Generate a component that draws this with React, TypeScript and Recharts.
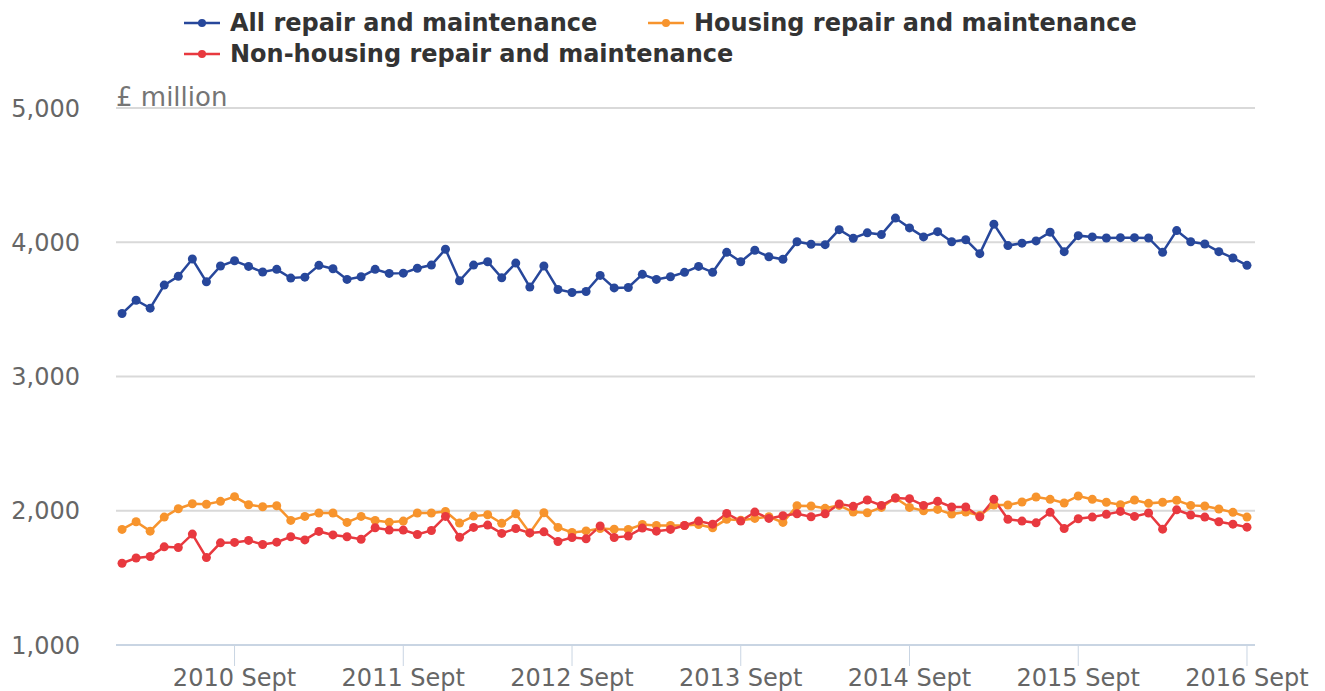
import React from 'react';
import { LineChart, Line, XAxis, YAxis, CartesianGrid } from 'recharts';

// Monthly, January 2010 to September 2016 (81 months), £ million
const allRepair = [
  3469, 3568, 3509, 3681, 3746, 3875, 3705, 3823, 3862, 3820,
  3778, 3798, 3733, 3740, 3828, 3803, 3723, 3743, 3798, 3768,
  3770, 3806, 3830, 3948, 3713, 3830, 3855, 3735, 3845, 3666,
  3823, 3648, 3626, 3633, 3753, 3660, 3663, 3761, 3723, 3743,
  3776, 3820, 3776, 3925, 3855, 3940, 3892, 3873, 4004, 3985,
  3982, 4094, 4030, 4070, 4057, 4180, 4107, 4040, 4079, 4004,
  4019, 3915, 4135, 3975, 3993, 4010, 4075, 3930, 4049, 4040,
  4032, 4034, 4034, 4032, 3925, 4087, 4004, 3987, 3930, 3883,
  3828,
];

const housing = [
  1861, 1918, 1848, 1953, 2015, 2052, 2048, 2070, 2105, 2045,
  2030, 2037, 1928, 1958, 1983, 1983, 1913, 1958, 1928, 1915,
  1923, 1983, 1983, 1995, 1908, 1960, 1970, 1906, 1978, 1835,
  1985, 1876, 1838, 1850, 1868, 1863, 1861, 1898, 1891, 1891,
  1890, 1898, 1873, 1936, 1930, 1943, 1955, 1913, 2037, 2035,
  2018, 2040, 1990, 1985, 2025, 2095, 2025, 2000, 2010, 1975,
  1990, 1965, 2043, 2043, 2065, 2102, 2085, 2058, 2110, 2085,
  2063, 2045, 2080, 2055, 2063, 2078, 2040, 2035, 2013, 1988,
  1953,
];

const nonHousing = [
  1609, 1648, 1659, 1731, 1726, 1826, 1651, 1761, 1764, 1779,
  1749, 1766, 1806, 1783, 1846, 1820, 1806, 1788, 1873, 1856,
  1856, 1823, 1853, 1958, 1803, 1876, 1893, 1831, 1868, 1835,
  1843, 1771, 1801, 1791, 1886, 1801, 1811, 1871, 1848, 1861,
  1890, 1923, 1900, 1980, 1923, 1990, 1943, 1963, 1978, 1955,
  1978, 2050, 2033, 2080, 2040, 2095, 2090, 2040, 2070, 2028,
  2028, 1955, 2085, 1936, 1923, 1910, 1988, 1868, 1940, 1953,
  1973, 1995, 1958, 1983, 1863, 2007, 1968, 1953, 1918, 1900,
  1878,
];

const xTickIndices = [8, 20, 32, 44, 56, 68, 80];
const xTickLabels = ['2010 Sept', '2011 Sept', '2012 Sept', '2013 Sept', '2014 Sept', '2015 Sept', '2016 Sept'];
const yTicks = [1000, 2000, 3000, 4000, 5000];

const seriesNames = ['All repair and maintenance', 'Housing repair and maintenance', 'Non-housing repair and maintenance'];
const colors = ['#27479b', '#f7942d', '#e8393f'];

const data = allRepair.map((v, i) => ({
  i,
  all: v,
  housing: housing[i],
  nonHousing: nonHousing[i],
}));

const FONT = '"DejaVu Sans", sans-serif';

const LegendItem = ({ left, top, color, label }: { left: number; top: number; color: string; label: string }) => (
  <div style={{ position: 'absolute', left, top, height: 30, display: 'flex', alignItems: 'center' }}>
    <svg width={36} height={12} style={{ display: 'block', marginRight: 10 }}>
      <line x1={0} y1={6} x2={36} y2={6} stroke={color} strokeWidth={2.5} />
      <circle cx={18} cy={6} r={4} fill={color} />
    </svg>
    <span style={{ fontFamily: FONT, fontWeight: 'bold', fontSize: 24, color: '#333333', whiteSpace: 'nowrap', lineHeight: '30px' }}>
      {label}
    </span>
  </div>
);

export default function App() {
  const fmt = (v: number) => v.toLocaleString('en-GB');
  const xFmt = (v: number) => {
    const k = xTickIndices.indexOf(v);
    return k >= 0 ? xTickLabels[k] : '';
  };
  return (
    <div style={{ position: 'absolute', left: 0, top: 0, width: 1325, height: 691, background: '#ffffff', overflow: 'hidden' }}>
      <LegendItem left={184} top={8} color={colors[0]} label={seriesNames[0]} />
      <LegendItem left={648} top={8} color={colors[1]} label={seriesNames[1]} />
      <LegendItem left={184} top={39} color={colors[2]} label={seriesNames[2]} />
      <div style={{ position: 'absolute', left: 116, top: 81, fontFamily: FONT, fontSize: 26, color: '#757575', lineHeight: '32px', whiteSpace: 'nowrap' }}>
        £ million
      </div>
      <LineChart
        width={1325}
        height={691}
        data={data}
        margin={{ top: 108, right: 70, bottom: 0, left: 0 }}
        style={{ fontFamily: FONT }}
      >
        <CartesianGrid vertical={false} stroke="#d9d9d9" strokeWidth={2} />
        <XAxis
          dataKey="i"
          type="number"
          domain={[-0.43, 80.57]}
          ticks={xTickIndices}
          tickFormatter={xFmt}
          interval={0}
          height={46}
          allowDataOverflow
          axisLine={{ stroke: '#c9d5e3', strokeWidth: 2 }}
          tickLine={{ stroke: '#c9d5e3', strokeWidth: 1 }}
          tickSize={21}
          tickMargin={3}
          tick={{ fill: '#666666', fontSize: 24, fontFamily: FONT }}
        />
        <YAxis
          type="number"
          domain={[1000, 5000]}
          ticks={yTicks}
          tickFormatter={fmt}
          width={116}
          axisLine={false}
          tickLine={false}
          tickSize={0}
          tickMargin={36}
          tick={{ fill: '#666666', fontSize: 24, fontFamily: FONT }}
        />
        <Line dataKey="all" name={seriesNames[0]} stroke={colors[0]} strokeWidth={2.5}
          dot={{ r: 4.5, fill: colors[0], stroke: colors[0], strokeWidth: 0 }} isAnimationActive={false} />
        <Line dataKey="housing" name={seriesNames[1]} stroke={colors[1]} strokeWidth={2.5}
          dot={{ r: 4.5, fill: colors[1], stroke: colors[1], strokeWidth: 0 }} isAnimationActive={false} />
        <Line dataKey="nonHousing" name={seriesNames[2]} stroke={colors[2]} strokeWidth={2.5}
          dot={{ r: 4.5, fill: colors[2], stroke: colors[2], strokeWidth: 0 }} isAnimationActive={false} />
      </LineChart>
    </div>
  );
}
